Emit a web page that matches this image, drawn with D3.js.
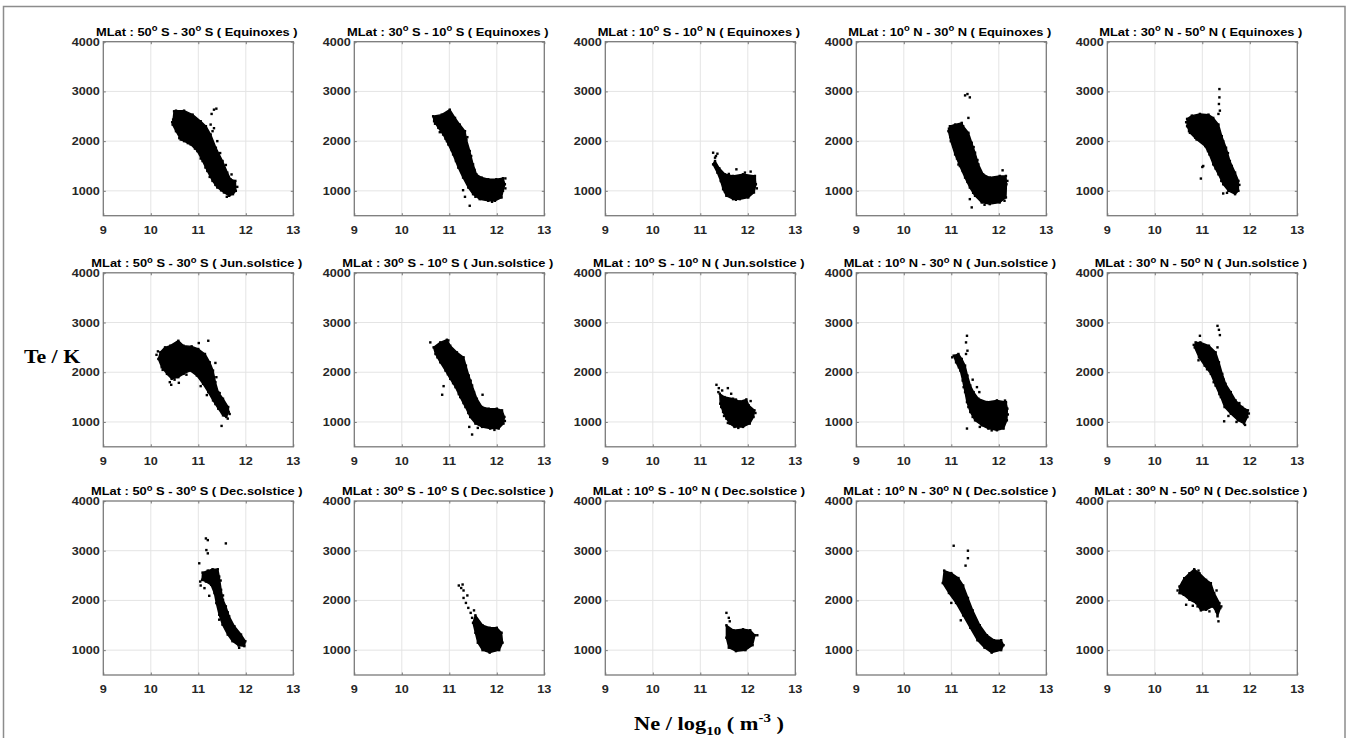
<!DOCTYPE html>
<html>
<head>
<meta charset="utf-8">
<script src="https://cdn.jsdelivr.net/npm/d3@7"></script>
<style>
  html, body { margin: 0; padding: 0; background: #fff; }
  svg { display: block; }
</style>
</head>
<body>
<svg id="chart" width="1351" height="738" font-family="Arial, 'Liberation Sans', Helvetica, sans-serif"></svg>
<script>
// ---- axes ----
const xTicks = [9, 10, 11, 12, 13];
const yTicks = [1000, 2000, 3000, 4000];
const xDomain = [9, 13];
const yDomain = [500, 4000];

// ---- panel labels ----
const seasons = ["Equinoxes", "Jun.solstice", "Dec.solstice"];
const latBands = [
  ["50", "S", "30", "S"],
  ["30", "S", "10", "S"],
  ["10", "S", "10", "N"],
  ["10", "N", "30", "N"],
  ["30", "N", "50", "N"]
];

// ---- dense cores of each cloud: [Ne (log10 m^-3), Te (K)] outline ----
const equinoxCore = [
  [[10.49,2600],[10.53,2613],[10.70,2613],[10.88,2533],[11.05,2400],[11.16,2300],[11.26,2133],[11.37,1867],[11.51,1600],[11.61,1367],[11.68,1233],[11.78,1200],[11.79,1000],[11.73,933],[11.65,900],[11.54,967],[11.40,1067],[11.30,1200],[11.19,1400],[11.09,1600],[10.98,1800],[10.84,1933],[10.70,2000],[10.63,2033],[10.53,2200],[10.46,2333],[10.47,2433]],
  [[10.66,2500],[10.84,2533],[11.01,2633],[11.12,2467],[11.22,2333],[11.33,2200],[11.36,2033],[11.43,1800],[11.50,1533],[11.57,1333],[11.68,1267],[11.82,1233],[11.99,1233],[12.13,1253],[12.17,1133],[12.13,1000],[12.10,867],[11.96,800],[11.82,800],[11.64,833],[11.50,933],[11.40,1067],[11.29,1267],[11.19,1467],[11.08,1733],[10.98,1933],[10.87,2133],[10.77,2267],[10.68,2400]],
  [[11.31,1600],[11.40,1453],[11.52,1333],[11.69,1300],[11.90,1333],[12.15,1300],[12.17,1133],[12.13,967],[12.01,867],[11.83,833],[11.69,833],[11.55,900],[11.48,1033],[11.43,1200],[11.36,1367],[11.27,1533]],
  [[10.97,2300],[11.08,2333],[11.22,2367],[11.25,2300],[11.36,2167],[11.43,1967],[11.50,1767],[11.57,1533],[11.67,1333],[11.81,1267],[12.02,1300],[12.15,1300],[12.16,1133],[12.15,867],[12.02,767],[11.81,733],[11.64,767],[11.50,900],[11.39,1067],[11.29,1267],[11.18,1500],[11.08,1733],[10.99,2000],[10.94,2200]],
  [[10.68,2447],[10.78,2513],[10.95,2547],[11.13,2533],[11.23,2467],[11.34,2333],[11.41,2100],[11.50,1867],[11.58,1600],[11.69,1367],[11.76,1200],[11.76,1000],[11.69,933],[11.55,1000],[11.44,1133],[11.34,1333],[11.23,1533],[11.15,1733],[11.06,1900],[10.88,2033],[10.74,2167],[10.68,2300]]
];
const juneCore = [
  [[10.20,2400],[10.30,2500],[10.41,2533],[10.58,2633],[10.69,2533],[10.86,2520],[11.00,2467],[11.14,2367],[11.24,2200],[11.31,2033],[11.36,1800],[11.42,1600],[11.52,1467],[11.63,1300],[11.64,1200],[11.59,1100],[11.52,1133],[11.42,1267],[11.31,1433],[11.21,1600],[11.10,1767],[10.97,1933],[10.83,2033],[10.69,1967],[10.58,1900],[10.44,1867],[10.34,1967],[10.23,2100],[10.16,2267]],
  [[10.67,2500],[10.81,2600],[10.95,2653],[11.02,2533],[11.16,2400],[11.30,2300],[11.35,2133],[11.41,1933],[11.48,1733],[11.58,1467],[11.69,1300],[11.83,1267],[12.00,1267],[12.11,1233],[12.16,1100],[12.14,967],[12.04,867],[11.86,867],[11.69,900],[11.55,967],[11.44,1100],[11.34,1300],[11.23,1500],[11.13,1700],[11.02,1867],[10.92,2033],[10.81,2200],[10.71,2367]],
  [[11.41,1567],[11.51,1500],[11.69,1467],[11.83,1413],[11.97,1453],[12.02,1333],[12.14,1233],[12.12,1100],[12.04,967],[11.90,900],[11.72,900],[11.62,967],[11.55,1067],[11.48,1200],[11.42,1367]],
  [[11.05,2333],[11.15,2367],[11.22,2267],[11.29,2133],[11.34,1933],[11.40,1733],[11.47,1600],[11.57,1467],[11.75,1400],[11.96,1433],[12.15,1400],[12.18,1267],[12.17,1033],[12.10,867],[11.96,833],[11.78,867],[11.64,933],[11.50,1033],[11.40,1200],[11.33,1400],[11.29,1600],[11.24,1833],[11.19,2033],[11.10,2200]],
  [[10.86,2600],[10.96,2600],[11.14,2533],[11.28,2400],[11.35,2200],[11.42,1967],[11.49,1767],[11.60,1600],[11.70,1433],[11.84,1300],[11.96,1233],[11.95,1100],[11.88,967],[11.75,1033],[11.60,1167],[11.47,1300],[11.39,1500],[11.28,1733],[11.18,1967],[11.05,2133],[10.93,2300],[10.84,2500]]
];
const decemberCore = [
  [[11.09,2560],[11.20,2600],[11.30,2627],[11.41,2627],[11.44,2480],[11.48,2213],[11.52,2013],[11.58,1880],[11.65,1680],[11.76,1480],[11.90,1313],[11.99,1180],[11.97,1080],[11.85,1093],[11.72,1180],[11.62,1313],[11.51,1513],[11.44,1713],[11.38,1947],[11.34,2147],[11.27,2313],[11.16,2380],[11.08,2413]],
  [[11.55,1700],[11.70,1500],[11.85,1450],[12.00,1450],[12.10,1350],[12.12,1150],[12.05,1000],[11.85,950],[11.70,1000],[11.60,1150],[11.55,1350],[11.50,1550]],
  [[11.55,1500],[11.70,1400],[11.90,1420],[12.05,1400],[12.15,1300],[12.10,1100],[11.95,1000],[11.75,980],[11.60,1050],[11.55,1250]],
  [[10.85,2600],[11.00,2550],[11.15,2450],[11.25,2300],[11.35,2050],[11.45,1800],[11.60,1500],[11.75,1300],[11.90,1200],[12.05,1200],[12.10,1100],[12.05,1000],[11.85,950],[11.70,1050],[11.55,1200],[11.40,1450],[11.25,1700],[11.10,1950],[10.95,2150],[10.82,2350]],
  [[10.52,2280],[10.62,2447],[10.73,2547],[10.83,2627],[10.94,2547],[11.08,2413],[11.18,2347],[11.25,2147],[11.36,1947],[11.38,1847],[11.32,1680],[11.29,1780],[11.22,1880],[11.08,1813],[10.97,1800],[10.87,1947],[10.73,2013],[10.61,2113],[10.52,2147]]
];

// ---- isolated measurements around each cloud: [Ne, Te] ----
const equinoxDots = [
  [[11.33,2633],[11.38,2653],[11.28,2547],[11.26,2333],[11.30,2200],[11.33,2260],[10.67,2033],[10.60,2060],[11.05,1650],[11.72,1150],[11.70,960],
   [10.78,1960],[10.93,1850],[11.15,1470],[11.24,1280],[11.36,1120],[11.48,1010],[11.60,880],[11.82,1080],[11.70,1330],[11.58,1520],[11.46,1760],[11.40,2000],[10.45,2380]],
  [[11.29,1013],[11.43,700],[11.33,880],[10.70,2350],[10.95,2000],[12.18,1250],
   [10.80,2180],[10.92,2050],[11.05,1820],[11.14,1600],[11.25,1380],[11.38,1150],[11.55,880],[11.90,780],[12.18,1050],[11.38,2080],[11.46,1700],[11.53,1420]],
  [[11.27,1767],[11.36,1747],[11.31,1667],[11.76,1433],[12.06,1387],[11.94,1367],[11.33,1700],
   [11.30,1560],[11.38,1420],[11.45,1180],[11.52,980],[11.75,820],[12.15,1250],[12.19,1050],[11.60,1340]],
  [[11.29,2920],[11.34,2947],[11.39,2880],[11.36,2467],[12.08,1413],[11.43,667],[11.39,833],[11.15,1530],[11.05,1900],
   [10.95,2250],[10.98,2080],[11.12,1650],[11.24,1400],[11.34,1180],[11.46,960],[11.70,720],[12.18,1200],[12.12,800],[11.47,1880],[11.55,1620]],
  [[11.36,3047],[11.36,2880],[11.35,2747],[11.37,2613],[11.34,2547],[11.02,1500],[11.00,1480],[10.97,1247],[11.44,947],[11.72,1050],[11.65,1250],
   [10.66,2380],[10.72,2200],[10.85,2070],[11.12,1800],[11.28,1450],[11.40,1200],[11.52,960],[11.78,1120],[11.62,1500],[11.54,1760],[11.44,2000]]
];
const juneDots = [
  [[11.21,2633],[11.01,2587],[11.36,2187],[11.49,920],[10.43,1747],[10.25,2047],[11.62,1067],[10.59,1787],[10.40,1800],[10.12,2350],
   [10.15,2420],[10.50,1850],[10.75,1950],[11.05,1720],[11.18,1540],[11.36,1360],[11.50,1180],[11.66,1160],[11.45,1580],[11.38,1900]],
  [[10.60,2600],[10.88,1720],[10.85,1547],[11.48,747],[11.42,900],[11.70,1547],[10.98,2640],
   [10.75,2300],[10.97,1960],[11.08,1780],[11.20,1560],[11.30,1380],[11.40,1180],[11.60,880],[11.95,840],[12.17,1020],[11.45,1830],[11.52,1600]],
  [[11.34,1747],[11.39,1680],[11.58,1680],[11.46,1633],[11.65,1567],[11.38,1600],
   [11.44,1300],[11.50,1120],[11.58,980],[11.80,880],[12.16,1180],[12.06,1420],[11.75,1450]],
  [[11.33,2733],[11.31,2600],[11.34,2433],[11.31,2367],[11.54,1700],[11.59,1600],[11.33,867],[12.15,1380],
   [11.02,2300],[11.16,2100],[11.26,1700],[11.36,1300],[11.45,1100],[11.60,900],[11.85,830],[12.19,1150],[12.13,1430],[11.45,1850]],
  [[10.95,2733],[11.32,2933],[11.35,2853],[11.37,2747],[11.32,2500],[11.46,1013],[11.60,1500],
   [10.82,2550],[10.92,2240],[11.10,2060],[11.24,1800],[11.36,1560],[11.55,1120],[11.72,1000],[11.90,940],[11.98,1170],[11.78,1380],[11.45,1850]]
];
const decemberDots = [
  [[11.02,2747],[11.16,3247],[11.20,3213],[11.17,3013],[11.20,2947],[11.58,3147],[11.09,2413],[11.23,2093],[11.13,2247],[11.30,2547],[11.44,1613],[11.86,1047],[11.05,2300],
   [11.04,2380],[11.12,2480],[11.45,1800],[11.55,1560],[11.68,1290],[11.80,1150],[11.96,1130],[11.62,1760],[11.52,2100],[11.47,2400]],
  [[11.20,2300],[11.25,2250],[11.30,2200],[11.30,2050],[11.35,1950],[11.40,1850],[11.45,1750],[11.38,2100],[11.28,2320],[11.48,1650],[11.52,1800]],
  [[11.55,1750],[11.60,1650],[11.62,1580],[12.20,1300]],
  [[11.05,3100],[11.35,3000],[11.35,2850],[11.30,2700],[11.00,1950],[11.20,1600],[11.50,1500]],
  [[10.66,1913],[10.80,1893],[11.34,1580],[11.22,2113],[10.92,2600],[10.48,2200],
   [10.58,2350],[11.30,2200],[11.40,1880],[11.15,1780],[10.90,1880]]
];

const cores = [equinoxCore, juneCore, decemberCore];
const dots = [equinoxDots, juneDots, decemberDots];

// ---- layout ----
const panelW = 190, panelH = 174;
const colLeft = [103.3, 354.3, 605.3, 856.3, 1107.3];
const rowTop = [41.7, 272.8, 501];
const SX = 1.15;           // horizontal stretch of all lettering
const axisColor = "#7a7a7a";
const gridColor = "#e4e4e4";
const tickTextColor = "#262626";
const serif = "'Liberation Serif', 'Times New Roman', 'DejaVu Serif', serif";

const svg = d3.select("#chart");

// outer frame
svg.append("rect")
  .attr("x", 3.5).attr("y", 6.5)
  .attr("width", 1341.5).attr("height", 740)
  .attr("fill", "none").attr("stroke", "#8c8c8c").attr("stroke-width", 1.5);

const x = d3.scaleLinear().domain(xDomain).range([0, panelW]);
const y = d3.scaleLinear().domain(yDomain).range([panelH, 0]);

function stretched(parent, px, py) {
  return parent.append("g").attr("transform", `translate(${px},${py}) scale(${SX},1)`);
}

seasons.forEach((season, r) => {
  latBands.forEach((band, c) => {
    const g = svg.append("g")
      .attr("transform", `translate(${colLeft[c]},${rowTop[r]})`);

    // grid
    g.append("g").selectAll("line").data(xTicks.slice(1, -1)).join("line")
      .attr("x1", d => x(d)).attr("x2", d => x(d))
      .attr("y1", 0).attr("y2", panelH)
      .attr("stroke", gridColor).attr("stroke-width", 1);
    g.append("g").selectAll("line").data(yTicks.slice(0, -1)).join("line")
      .attr("y1", d => y(d)).attr("y2", d => y(d))
      .attr("x1", 0).attr("x2", panelW)
      .attr("stroke", gridColor).attr("stroke-width", 1);

    // cloud core
    const core = cores[r][c];
    g.append("path")
      .datum(core)
      .attr("d", d3.line().x(d => x(d[0])).y(d => y(d[1])).curve(d3.curveLinearClosed))
      .attr("fill", "#000").attr("stroke", "#000").attr("stroke-width", 1.5)
      .attr("stroke-linejoin", "round");

    // outline speckles and isolated points
    g.append("g").selectAll("rect").data(core.concat(dots[r][c])).join("rect")
      .attr("x", d => x(d[0]) - 1.2).attr("y", d => y(d[1]) - 1.2)
      .attr("width", 2.4).attr("height", 2.4).attr("fill", "#000");

    // box
    g.append("rect")
      .attr("x", 0).attr("y", 0).attr("width", panelW).attr("height", panelH)
      .attr("fill", "none").attr("stroke", axisColor).attr("stroke-width", 1.3);

    // inward ticks on all four sides
    const xAxB = d3.axisBottom(x).tickValues(xTicks).tickSize(-2.5).tickFormat("");
    const xAxT = d3.axisTop(x).tickValues(xTicks).tickSize(-2.5).tickFormat("");
    const yAxL = d3.axisLeft(y).tickValues(yTicks).tickSize(-2.5).tickFormat("");
    const yAxR = d3.axisRight(y).tickValues(yTicks).tickSize(-2.5).tickFormat("");
    [[xAxB, `translate(0,${panelH})`], [xAxT, "translate(0,0)"],
     [yAxL, "translate(0,0)"], [yAxR, `translate(${panelW},0)`]].forEach(([ax, tr]) => {
      const a = g.append("g").attr("transform", tr).call(ax);
      a.select(".domain").remove();
      a.selectAll("line").attr("stroke", axisColor);
    });

    // tick labels
    xTicks.forEach(t => {
      stretched(g, x(t), panelH + 18.3).append("text")
        .attr("text-anchor", "middle")
        .attr("font-size", 11).attr("font-weight", "bold")
        .attr("fill", tickTextColor).text(t);
    });
    yTicks.forEach(t => {
      stretched(g, -3.5, y(t) + 4).append("text")
        .attr("text-anchor", "end")
        .attr("font-size", 11).attr("font-weight", "bold")
        .attr("fill", tickTextColor).text(t);
    });

    // title
    const tt = stretched(g, panelW / 2 - 1.5, -5.8).append("text")
      .attr("text-anchor", "middle")
      .attr("font-size", 11.2).attr("font-weight", "bold").attr("fill", "#000");
    tt.append("tspan").text(`MLat : ${band[0]}`);
    tt.append("tspan").attr("font-size", 8.2).attr("dy", -4.5).text("o");
    tt.append("tspan").attr("dy", 4.5).text(` ${band[1]} - ${band[2]}`);
    tt.append("tspan").attr("font-size", 8.2).attr("dy", -4.5).text("o");
    tt.append("tspan").attr("dy", 4.5).text(` ${band[3]} ( ${season} )`);
  });
});

// shared axis titles
const xl = stretched(svg, 709, 730).append("text")
  .attr("text-anchor", "middle")
  .attr("font-family", serif)
  .attr("font-size", 19.5).attr("font-weight", "bold").attr("fill", "#000");
xl.append("tspan").text("Ne / log");
xl.append("tspan").attr("font-size", 13).attr("dy", 5).text("10");
xl.append("tspan").attr("dy", -5).text(" ( m");
xl.append("tspan").attr("font-size", 13).attr("dy", -8).text("-3");
xl.append("tspan").attr("dy", 8).text(" )");

stretched(svg, 52, 363).append("text")
  .attr("text-anchor", "middle")
  .attr("font-family", serif)
  .attr("font-size", 19).attr("font-weight", "bold").attr("fill", "#000")
  .text("Te / K");
</script>
</body>
</html>
